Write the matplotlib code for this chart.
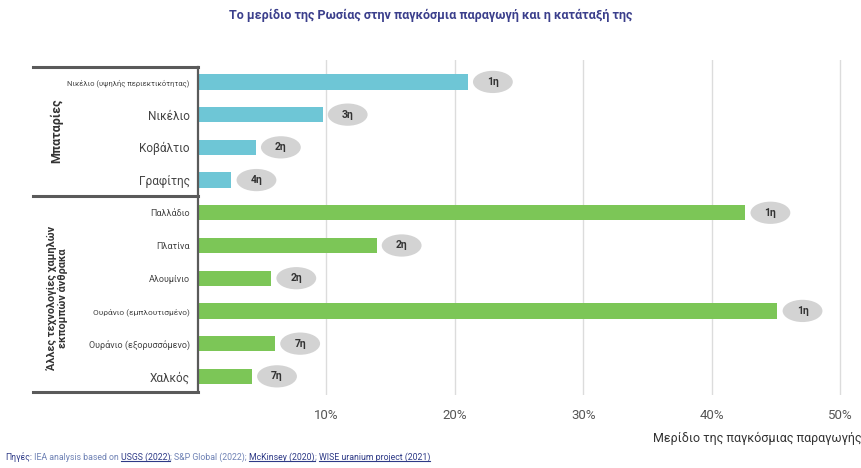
import matplotlib

matplotlib.use("Agg")
import matplotlib.pyplot as plt
import matplotlib.transforms as mtransforms
from matplotlib.lines import Line2D
from matplotlib.patches import Ellipse

plt.rcParams["font.family"] = ["Roboto", "DejaVu Sans"]

# Russia's share of world production per material (%), with its world rank
materials = [
    "Νικέλιο (υψηλής περιεκτικότητας)",
    "Νικέλιο",
    "Κοβάλτιο",
    "Γραφίτης",
    "Παλλάδιο",
    "Πλατίνα",
    "Αλουμίνιο",
    "Ουράνιο (εμπλουτισμένο)",
    "Ουράνιο (εξορυσσόμενο)",
    "Χαλκός",
]
shares = [21.0, 9.7, 4.5, 2.6, 42.6, 13.9, 5.7, 45.1, 6.0, 4.2]
ranks = ["1η", "3η", "2η", "4η", "1η", "2η", "2η", "1η", "7η", "7η"]
groups = ["Μπαταρίες"] * 4 + ["Άλλες τεχνολογίες χαμηλών\nεκπομπών άνθρακα"] * 6
label_sizes = [5.5, 8.5, 8.5, 8.5, 6.5, 6.5, 6.5, 6, 6.5, 8.5]
xticks = [10, 20, 30, 40, 50]

BATTERY = "#6ec6d6"
OTHER = "#7cc657"

fig = plt.figure(figsize=(8.61, 4.68), dpi=100)
ax = fig.add_axes([198 / 861, 1 - 395 / 468, 1 - 198 / 861, 335 / 468])

y = list(range(len(materials)))
colors = [BATTERY if g == "Μπαταρίες" else OTHER for g in groups]
ax.barh(y, shares, height=0.47, color=colors, zorder=2)

# rank badges to the right of each bar
for yi, val, rk in zip(y, shares, ranks):
    cx = val + 1.95
    ax.add_patch(Ellipse((cx, yi), 3.1, 0.68, facecolor="#d3d3d3", edgecolor="none", zorder=3))
    ax.text(cx, yi, rk, ha="center", va="center", fontsize=7.5, fontweight="bold",
            color="#333333", zorder=4)

ax.set_xlim(0, 51.6)
ax.set_ylim(9.57, -0.67)
ax.set_xticks(xticks)
ax.set_xticklabels([f"{t}%" for t in xticks], fontsize=9.5, color="#555555")
ax.set_yticks(y)
ax.set_yticklabels(materials, color="#444444")
for lbl, fs in zip(ax.get_yticklabels(), label_sizes):
    lbl.set_fontsize(fs)
ax.tick_params(axis="both", length=0)
ax.tick_params(axis="x", pad=10)
ax.tick_params(axis="y", pad=6)
ax.grid(axis="x", color="#dcdcdc", linewidth=1, zorder=0)
for s in ax.spines.values():
    s.set_visible(False)

# group bracket on the left
tr = mtransforms.blended_transform_factory(fig.transFigure, ax.transData)
x0, x1 = 33 / 861, 198 / 861
for yy in (-0.46, 3.5, 9.48):
    fig.add_artist(Line2D([x0, x1], [yy, yy], transform=tr, color="#5a5a5a", linewidth=2.2))
fig.add_artist(Line2D([x1, x1], [-0.46, 9.48], transform=tr, color="#5a5a5a", linewidth=1.6))

ax.text(57 / 861, 1.5, "Μπαταρίες", transform=tr, rotation=90, ha="center", va="center",
        fontsize=9, fontweight="bold", color="#333333")
ax.text(57 / 861, 6.6, "Άλλες τεχνολογίες χαμηλών\nεκπομπών άνθρακα", transform=tr,
        rotation=90, ha="center", va="center", fontsize=7.8, fontweight="bold",
        color="#333333", linespacing=1.0)

fig.text(431 / 861, 1 - 15 / 468, "Το μερίδιο της Ρωσίας στην παγκόσμια παραγωγή και η κατάταξή της",
         ha="center", va="center", fontsize=9, fontweight="bold", color="#3b3f8c")
fig.text(653 / 861, 1 - 438 / 468, "Μερίδιο της παγκόσμιας παραγωγής", ha="left", va="center",
         fontsize=9, color="#333333")

# sources line
parts = [
    ("Πηγές:", "#2e3a87", False),
    (" IEA analysis based on ", "#6f82b5", False),
    ("USGS (2022)", "#2e3a87", True),
    ("; S&P Global (2022); ", "#6f82b5", False),
    ("McKinsey (2020)", "#2e3a87", True),
    ("; ", "#6f82b5", False),
    ("WISE uranium project (2021)", "#2e3a87", True),
]
fig.canvas.draw()
renderer = fig.canvas.get_renderer()
xpos = 5
ypix = 468 - 457
for txt, col, link in parts:
    t = fig.text(xpos / 861, ypix / 468, txt, ha="left", va="center", fontsize=6.3, color=col)
    bb = t.get_window_extent(renderer=renderer)
    if link:
        fig.add_artist(Line2D([bb.x0 / 861, bb.x1 / 861], [(bb.y0 + 1) / 468] * 2,
                              transform=fig.transFigure, color=col, linewidth=0.8))
    xpos += bb.width

fig.savefig("out.png", dpi=100)
